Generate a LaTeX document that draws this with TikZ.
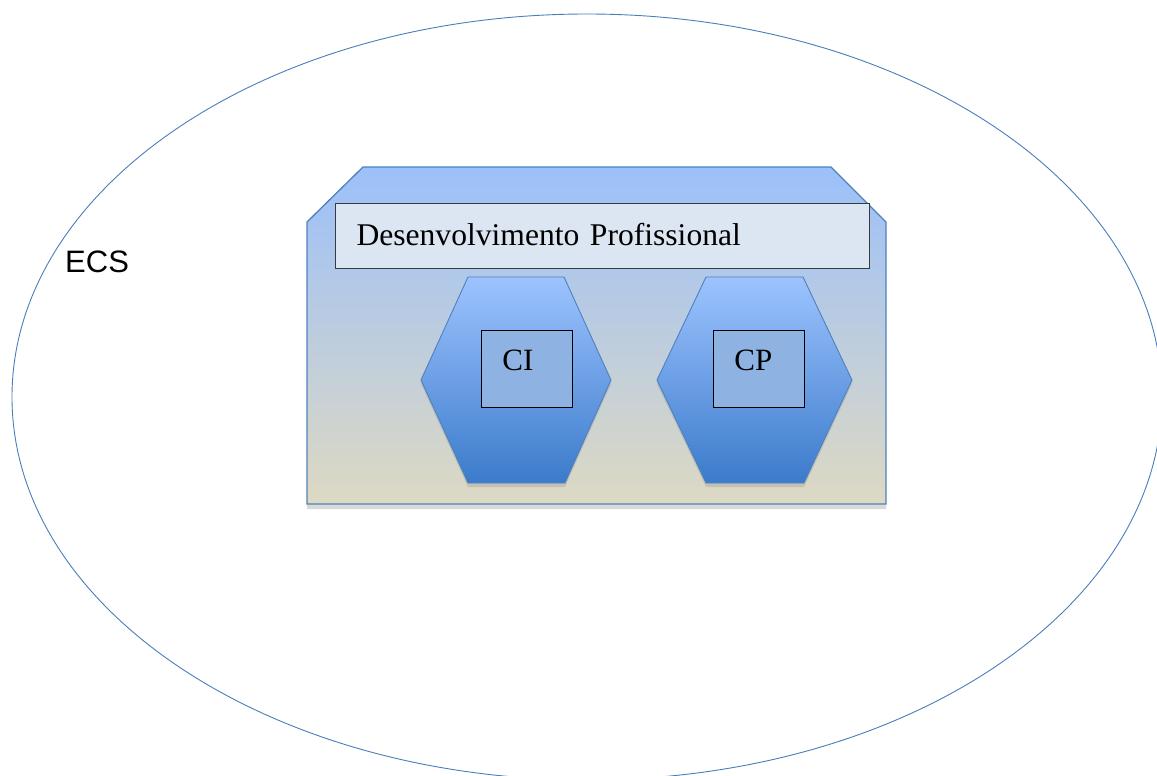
\documentclass[tikz,border=0pt]{standalone}
\usepackage{fontspec}
\setmainfont{Liberation Serif}
\setsansfont{Liberation Sans}
\usetikzlibrary{shapes.geometric,shadows}
\definecolor{ringedge}{HTML}{4A7EBB}
\definecolor{plateedge}{HTML}{4F81BD}
\definecolor{platetop}{HTML}{9CC0FA}
\definecolor{platemid}{HTML}{C1CCDF}
\definecolor{platebot}{HTML}{DDD9C3}
\definecolor{hexedge}{HTML}{4F81BD}
\definecolor{hextop}{HTML}{9DC3FF}
\definecolor{hexbot}{HTML}{3B7BCB}
\definecolor{titlefill}{HTML}{DCE6F2}
\definecolor{titleedge}{HTML}{3A3A3A}
\definecolor{sqfill}{HTML}{8EB3E2}

\begin{document}
\begin{tikzpicture}[x=1pt, y=-1pt,
  ring/.style={draw=ringedge, line width=0.9pt, ellipse, inner sep=0pt,
               minimum width=1150pt, minimum height=766pt},
  plate/.style={draw=plateedge, line width=1.3pt, top color=platetop,
                middle color=platemid, bottom color=platebot,
                drop shadow={opacity=0.3, shadow xshift=0pt, shadow yshift=-5pt}},
  hexa/.style={draw=hexedge, line width=0.9pt, top color=hextop, bottom color=hexbot,
               drop shadow={opacity=0.25, shadow xshift=0pt, shadow yshift=-4pt}},
  ttl/.style={draw=titleedge, line width=1pt, fill=titlefill, anchor=north west,
              minimum width=534pt, minimum height=65pt, text width=492pt, align=left,
              inner xsep=21pt, inner ysep=0pt, text depth=3pt,
              font=\fontsize{31.6}{38}\selectfont},
  sq/.style={draw=black, line width=0.9pt, fill=sqfill, anchor=north west,
             minimum width=91pt, minimum height=77pt, text width=49pt, align=left,
             inner xsep=21pt, inner ysep=0pt, text depth=18pt,
             font=\fontsize{31}{36}\selectfont},
  tag/.style={inner sep=0pt, anchor=base west, font=\sffamily\fontsize{31}{36}\selectfont}
]
\useasboundingbox (0,0) rectangle (1157,776);
\clip (0,0) rectangle (1157,776);

\node[ring] (ecs) at (587,397) {};
\node[tag] (ecslbl) at (65,272) {ECS};

% desenvolvimento profissional
\draw[plate] (307,222) -- (363,167) -- (831,167) -- (886,222) -- (886,504) -- (307,504) -- cycle;
\node[ttl] (dp) at (335,203) {Desenvolvimento Profissional};

% CI and CP
\draw[hexa] (421,380) -- (468,277) -- (564,277) -- (611,380) -- (565,483) -- (468,483) -- cycle;
\draw[hexa] (657,380) -- (706,277) -- (803,277) -- (852,380) -- (804,483) -- (706,483) -- cycle;

\node[sq] (ci) at (481,330) {CI};
\node[sq] (cp) at (713,330) {CP};

\end{tikzpicture}
\end{document}
